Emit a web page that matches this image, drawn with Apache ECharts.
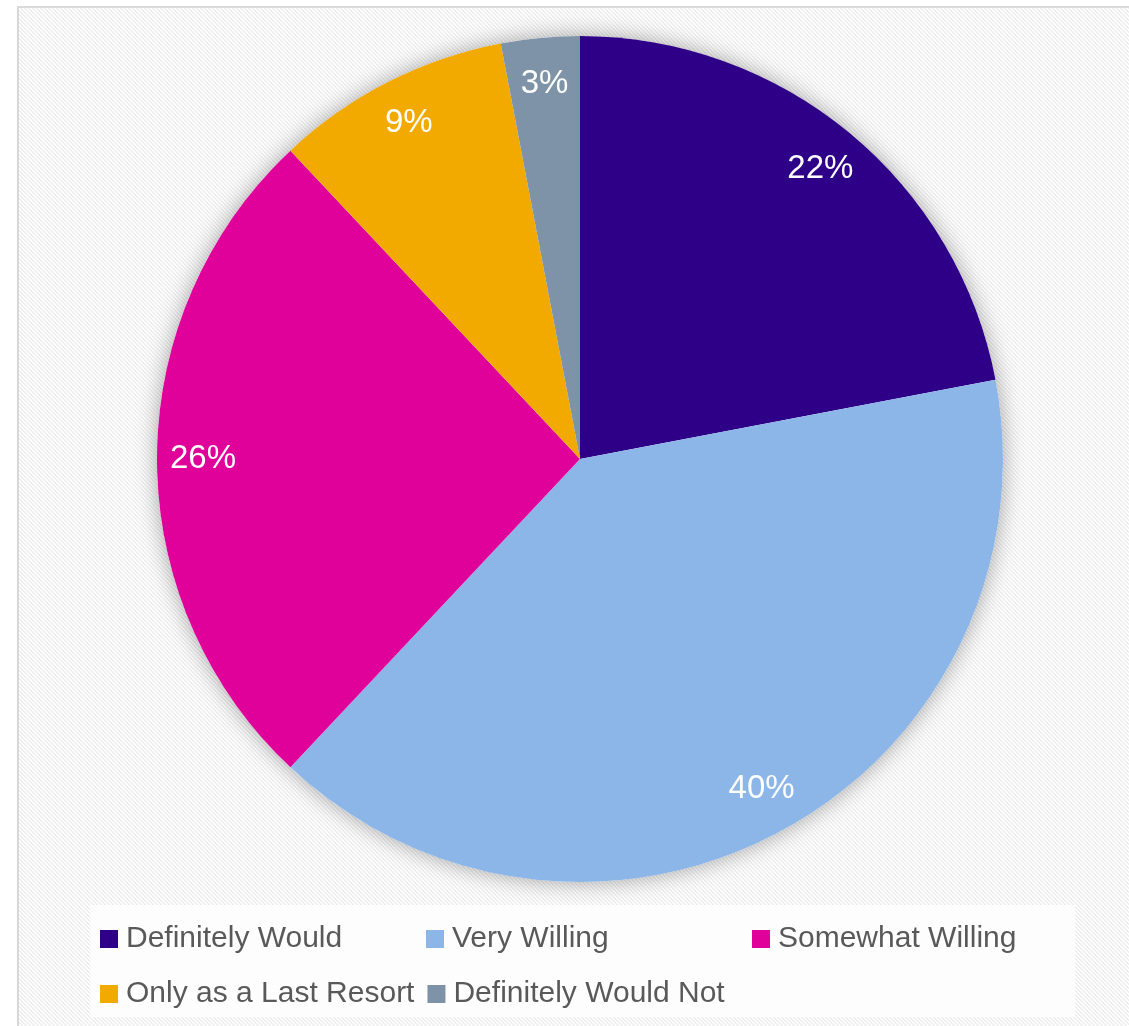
<!DOCTYPE html>
<html>
<head>
<meta charset="utf-8">
<script src="https://cdn.jsdelivr.net/npm/echarts@6/dist/echarts.min.js"></script>
<style>
  html, body { margin: 0; padding: 0; background: #fff; }
  #chart { width: 1129px; height: 1026px; }
</style>
</head>
<body>
<div id="chart"></div>
<script>
const categories = ['Definitely Would', 'Very Willing', 'Somewhat Willing', 'Only as a Last Resort', 'Definitely Would Not']
const values = [22, 40, 26, 9, 3]
const colors = ['#2e0088', '#8cb6e7', '#e0009a', '#f2aa00', '#7f93a8']

// faint diagonal stripes for the plot area
const makeStripes = () => {
  const c = document.createElement('canvas')
  c.width = 4
  c.height = 4
  const ctx = c.getContext('2d')
  ctx.fillStyle = '#ffffff'
  ctx.fillRect(0, 0, 4, 4)
  ctx.fillStyle = '#eeeeee'
  for (let i = 0; i < 4; i++) {
    ctx.fillRect(i, i, 1, 1)
    ctx.fillRect((i + 1) % 4, i, 1, 1)
  }
  return c
}

const pieData = categories.map((name, i) => ({
  name,
  value: values[i],
  itemStyle: { color: colors[i] },
}))

const chart = echarts.init(document.getElementById('chart'))

const option = {
  animation: false,
  graphic: [
    {
      type: 'rect',
      z: -10,
      shape: { x: 18, y: 7, width: 1130, height: 1040 },
      style: {
        fill: { image: makeStripes(), repeat: 'repeat' },
        stroke: '#d9d9d9',
        lineWidth: 2,
      },
    },
  ],
  legend: {
    data: categories,
    left: 90,
    top: 905,
    width: 970,
    padding: [13, 10, 2, 10],
    itemWidth: 18,
    itemHeight: 18,
    itemGap: 13,
    icon: 'rect',
    backgroundColor: 'rgba(255,255,255,0.8)',
    textStyle: {
      fontFamily: 'Liberation Sans',
      fontSize: 30,
      color: '#595959',
      width: 287,
      lineHeight: 42,
      padding: [0, 0, 0, 3],
    },
  },
  series: [
    {
      // shadow under the whole pie
      type: 'pie',
      silent: true,
      center: [580, 459],
      radius: [0, 423],
      label: { show: false },
      labelLine: { show: false },
      itemStyle: {
        color: '#ffffff',
        shadowBlur: 22,
        shadowColor: 'rgba(0,0,0,0.35)',
      },
      data: [{ name: '', value: 1 }],
    },
    {
      name: 'Willingness',
      type: 'pie',
      center: [580, 459],
      radius: [0, 423],
      startAngle: 90,
      clockwise: true,
      label: { show: false },
      labelLine: { show: false },
      data: pieData,
    },
    {
      // label ring so the percents sit near the rim
      type: 'pie',
      silent: true,
      center: [580, 459],
      radius: [325, 423],
      startAngle: 90,
      clockwise: true,
      itemStyle: { color: 'rgba(0,0,0,0)' },
      label: {
        show: true,
        position: 'inside',
        formatter: '{c}%',
        color: '#ffffff',
        fontFamily: 'Liberation Sans',
        fontSize: 33,
      },
      labelLine: { show: false },
      data: categories.map((name, i) => ({ name, value: values[i] })),
    },
  ],
}

chart.setOption(option)
</script>
</body>
</html>
